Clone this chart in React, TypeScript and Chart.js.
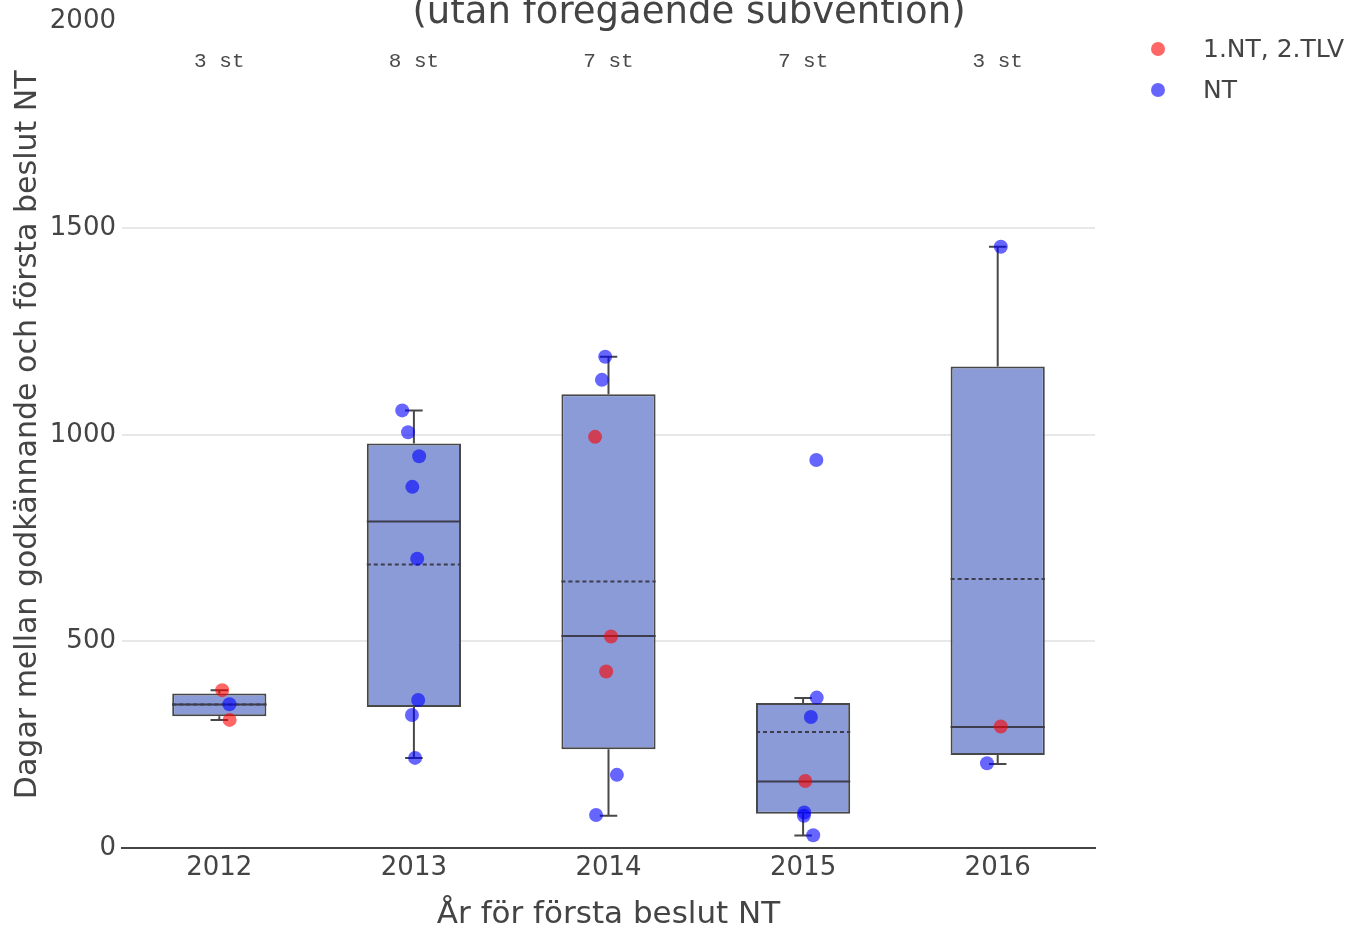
import React, { useEffect, useRef } from "react";
import { Chart, registerables } from "chart.js";

Chart.register(...registerables);

// ---- data ----
const years = ["2012", "2013", "2014", "2015", "2016"];
const countLabels = ["3 st", "8 st", "7 st", "7 st", "3 st"];
const yTicks = [0, 500, 1000, 1500, 2000];

// box statistics per year
const q1 = [319, 341, 239, 83, 225];
const q3 = [374, 979, 1098, 351, 1165];
const medians = [347, 790, 513, 161, 293];
const means = [347, 686, 645, 281, 651];
const lowerFence = [310, 218, 78, 30, 203];
const upperFence = [382, 1059, 1189, 363, 1455];

// individual observations: year index, value, jitter (in category units)
const redYear = [0, 0, 2, 2, 2, 3, 4];
const redValue = [382, 310, 995, 512, 427, 162, 294];
const redJitter = [0.015, 0.053, -0.069, 0.013, -0.012, 0.011, 0.016];

const blueYear = [0, 1, 1, 1, 1, 1, 1, 1, 1, 2, 2, 2, 2, 3, 3, 3, 3, 3, 3, 4, 4];
const blueValue = [348, 1059, 1006, 948, 874, 700, 358, 322, 218, 1189, 1133, 177, 80, 939, 364, 317, 86, 78, 31, 1455, 205];
const blueJitter = [0.052, -0.06, -0.03, 0.027, -0.008, 0.017, 0.022, -0.01, 0.006, -0.017, -0.034, 0.043, -0.064, 0.068, 0.07, 0.04, 0.006, 0.004, 0.052, 0.016, -0.055];

const seriesNames = ["1.NT, 2.TLV", "NT"];
const titleText = "(utan foregaende subvention)";
const xTitle = "År för första beslut NT";
const yTitle = "Dagar mellan godkännande och första beslut NT";

const BOX_HALF = 0.242;
const CAP_HALF = 0.045;
const FONT = "'DejaVu Sans', Verdana, sans-serif";
const TEXT = "#444";

const RED = "rgba(255,0,0,0.6)";
const BLUE = "rgba(0,0,255,0.6)";

export default function App() {
  const ref = useRef<HTMLCanvasElement>(null);

  useEffect(() => {
    if (!ref.current) return;

    const gap = { x: NaN, y: null as any };
    const whiskers: any[] = [];
    const medLine: any[] = [];
    const meanLine: any[] = [];
    years.forEach((_, i) => {
      whiskers.push({ x: i, y: q3[i] }, { x: i, y: upperFence[i] }, gap);
      whiskers.push({ x: i - CAP_HALF, y: upperFence[i] }, { x: i + CAP_HALF, y: upperFence[i] }, gap);
      whiskers.push({ x: i, y: q1[i] }, { x: i, y: lowerFence[i] }, gap);
      whiskers.push({ x: i - CAP_HALF, y: lowerFence[i] }, { x: i + CAP_HALF, y: lowerFence[i] }, gap);
      medLine.push({ x: i - BOX_HALF, y: medians[i] }, { x: i + BOX_HALF, y: medians[i] }, gap);
      meanLine.push({ x: i - BOX_HALF, y: means[i] }, { x: i + BOX_HALF, y: means[i] }, gap);
    });

    const overlay = {
      id: "overlay",
      afterDraw(chart: any) {
        const { ctx, chartArea, scales } = chart;
        ctx.save();
        // title (second line visible)
        ctx.fillStyle = TEXT;
        ctx.font = `37px ${FONT}`;
        ctx.textAlign = "center";
        ctx.textBaseline = "alphabetic";
        ctx.fillText(titleText, 689, 23);
        // counts
        ctx.font = "21px 'Liberation Mono', monospace";
        ctx.fillStyle = "#4a4a4a";
        ctx.textBaseline = "middle";
        years.forEach((_, i) => {
          ctx.fillText(countLabels[i], scales.x.getPixelForValue(i), chartArea.top + 40);
        });
        // legend
        const colors = [RED, BLUE];
        ctx.font = `25px ${FONT}`;
        ctx.textAlign = "left";
        seriesNames.forEach((n, k) => {
          const y = 49 + k * 41;
          ctx.fillStyle = colors[k];
          ctx.beginPath();
          ctx.arc(1158, y, 7, 0, Math.PI * 2);
          ctx.fill();
          ctx.fillStyle = TEXT;
          ctx.fillText(n, 1203, y + 1);
        });
        ctx.restore();
      },
    };

    const chart = new Chart(ref.current, {
      type: "bar",
      data: {
        datasets: [
          {
            type: "bar",
            label: "box",
            data: years.map((_, i) => ({ x: i, y: [q1[i], q3[i]] })) as any,
            backgroundColor: "#8a9bd8",
            borderColor: "#484848",
            borderWidth: 2,
            borderSkipped: false,
            barPercentage: 0.484,
            categoryPercentage: 1,
            order: 5,
          } as any,
          {
            type: "scatter",
            label: "whiskers",
            data: whiskers,
            showLine: true,
            spanGaps: false,
            borderColor: "#484848",
            borderWidth: 2,
            pointRadius: 0,
            order: 4,
          } as any,
          {
            type: "scatter",
            label: "median",
            data: medLine,
            showLine: true,
            spanGaps: false,
            borderColor: "#3d3d4d",
            borderWidth: 2,
            pointRadius: 0,
            order: 3,
          } as any,
          {
            type: "scatter",
            label: "mean",
            data: meanLine,
            showLine: true,
            spanGaps: false,
            borderColor: "#3d3d4d",
            borderWidth: 2,
            borderDash: [4, 3],
            pointRadius: 0,
            order: 3,
          } as any,
          {
            type: "scatter",
            label: seriesNames[0],
            data: redValue.map((v, k) => ({ x: redYear[k] + redJitter[k], y: v })),
            backgroundColor: RED,
            borderWidth: 0,
            pointRadius: 7,
            order: 1,
          } as any,
          {
            type: "scatter",
            label: seriesNames[1],
            data: blueValue.map((v, k) => ({ x: blueYear[k] + blueJitter[k], y: v })),
            backgroundColor: BLUE,
            borderWidth: 0,
            pointRadius: 7,
            order: 1,
          } as any,
        ],
      },
      options: {
        animation: false,
        responsive: false,
        devicePixelRatio: 1,
        layout: { padding: { top: 18, right: 253, left: 0, bottom: 0 } },
        plugins: { legend: { display: false }, tooltip: { enabled: false }, title: { display: false } },
        scales: {
          x: {
            type: "linear",
            offset: false,
            min: -0.5,
            max: 4.5,
            afterBuildTicks: (s: any) => {
              s.ticks = years.map((_, i) => ({ value: i }));
            },
            afterFit: (s: any) => {
              s.height = 82;
            },
            ticks: {
              callback: (v: any) => years[v] ?? "",
              font: { family: FONT, size: 26 },
              color: TEXT,
              padding: 5,
              maxRotation: 0,
              autoSkip: false,
            },
            grid: { display: false, drawTicks: false, offset: false },
            border: { display: true, color: "#444", width: 2 },
            title: {
              display: true,
              text: xTitle,
              font: { family: FONT, size: 31, lineHeight: 1.0 },
              color: TEXT,
              padding: { top: 0, bottom: 0 },
            },
          },
          y: {
            type: "linear",
            min: 0,
            max: 2000,
            afterBuildTicks: (s: any) => {
              s.ticks = yTicks.map((v) => ({ value: v }));
            },
            afterFit: (s: any) => {
              s.width = 122;
            },
            ticks: {
              callback: (v: any) => String(v),
              font: { family: FONT, size: 26 },
              color: TEXT,
              padding: 6,
            },
            grid: {
              drawTicks: false,
              color: (c: any) => (c.tick && c.tick.value > 0 && c.tick.value < 2000 ? "#e8e8e8" : "rgba(0,0,0,0)"),
              lineWidth: 2,
            },
            border: { display: false },
            title: {
              display: true,
              text: yTitle,
              font: { family: FONT, size: 30, lineHeight: 1.2 },
              color: TEXT,
              padding: { top: 10, bottom: 0 },
            },
          },
        },
      },
      plugins: [overlay],
    });
    return () => chart.destroy();
  }, []);

  return (
    <div style={{ position: "fixed", left: 0, top: 0, width: 1348, height: 930, background: "#fff" }}>
      <canvas ref={ref} width={1348} height={930} style={{ width: 1348, height: 930, display: "block" }} />
    </div>
  );
}
